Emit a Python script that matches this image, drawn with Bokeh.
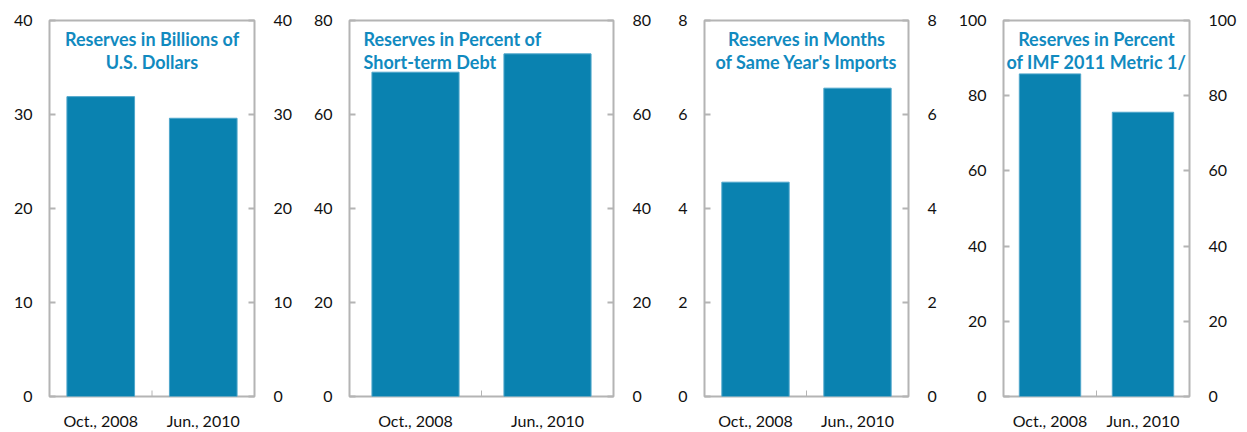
from bokeh.plotting import figure
from bokeh.models import (ColumnDataSource, FactorRange, Range1d, LinearAxis,
                          CategoricalAxis, FixedTicker)
from bokeh.layouts import row
from bokeh.embed import file_html
from bokeh.resources import INLINE
from bokeh.core.properties import value

categories = ["Oct., 2008", "Jun., 2010"]
usd_billions = [31.9, 29.6]
pct_short_term_debt = [69.0, 72.9]
months_imports = [4.56, 6.56]
pct_imf_metric = [85.8, 75.6]

titles = [
    "Reserves in Billions of\nU.S. Dollars",
    "Reserves in Percent of\nShort-term Debt",
    "Reserves in Months\nof Same Year's Imports",
    "Reserves in Percent\nof IMF 2011 Metric 1/",
]
y_max = [40, 80, 8, 100]
y_step = [10, 20, 2, 20]

BAR = "#0a82b0"
TITLE = "#118abf"
GREY = "#b4b4b4"
FONT = "Lato"


def panel(vals, ymax, step, title, width, left, right, align):
    p = figure(x_range=FactorRange(*categories, range_padding=0),
               y_range=Range1d(0, ymax), width=width, height=432,
               output_backend="svg", toolbar_location=None,
               x_axis_location=None, y_axis_location=None,
               min_border_left=left, min_border_right=right,
               min_border_top=20, min_border_bottom=35)
    p.grid.visible = False
    p.outline_line_color = GREY
    p.outline_line_width = 2
    p.background_fill_color = "white"
    p.border_fill_color = "white"
    src = ColumnDataSource(dict(cat=categories, val=vals))
    p.vbar(x="cat", top="val", width=0.66, source=src, fill_color=BAR,
           line_color="#4ea6cb", line_width=1)

    ticks = list(range(0, ymax + 1, step))
    for loc in ("left", "right"):
        ax = LinearAxis(ticker=FixedTicker(ticks=ticks))
        ax.axis_line_color = None
        ax.major_tick_in = 6
        ax.major_tick_out = 0
        ax.major_tick_line_color = GREY
        ax.major_tick_line_width = 2
        ax.minor_tick_line_color = None
        ax.major_label_standoff = 17 if loc == "left" else 19
        ax.major_label_text_font = FONT
        ax.major_label_text_font_size = "16px"
        ax.major_label_text_color = "#111111"
        p.add_layout(ax, loc)

    # tick mark on the boundary between the two categories
    p.ray(x=[1], y=[0], length=6, length_units="screen", angle=90,
          angle_units="deg", line_color=GREY, line_width=1)

    cax = CategoricalAxis()
    cax.axis_line_color = None
    cax.major_tick_line_color = None
    cax.major_tick_in = 0
    cax.major_tick_out = 0
    cax.major_label_standoff = 14
    cax.major_label_text_font = FONT
    cax.major_label_text_font_size = "16px"
    cax.major_label_text_color = "#111111"
    p.add_layout(cax, "below")

    if align == "center":
        tx, xo = 1, 0
    else:
        tx, xo = 0, 14
    p.text(x=[tx], y=[ymax], text=[title], x_offset=xo, y_offset=7,
           text_align=align, text_baseline="top", text_font=value(FONT),
           text_font_style="bold", text_font_size="18px", text_color=TITLE,
           text_line_height=1.09)
    return p


p1 = panel(usd_billions, y_max[0], y_step[0], titles[0], 300, 49, 46, "center")
p2 = panel(pct_short_term_debt, y_max[1], y_step[1], titles[1], 360, 49, 47, "left")
p3 = panel(months_imports, y_max[2], y_step[2], titles[2], 295, 44, 47, "center")
p4 = panel(pct_imf_metric, y_max[3], y_step[3], titles[3], 284, 44, 40, "center")

layout = row(p1, p2, p3, p4, spacing=0)
html = file_html(layout, INLINE)
html = html.replace("<head>", "<head><style>html,body{overflow:hidden}</style>", 1)
open("out.html", "w").write(html)
